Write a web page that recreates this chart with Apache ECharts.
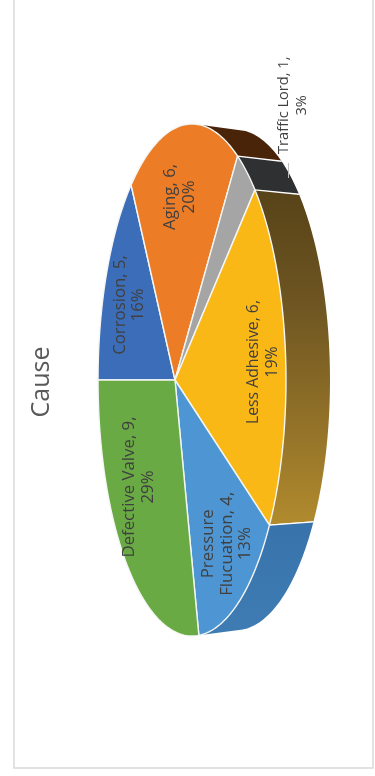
<!DOCTYPE html>
<html><head><meta charset="utf-8">
<style>html,body{margin:0;padding:0;background:#fff}#c{width:375px;height:776px}</style>
<script src="https://cdn.jsdelivr.net/npm/echarts@6/dist/echarts.min.js"></script>
</head><body><div id="c"></div>
<script>
const categories = ['Corrosion','Aging','Traffic Lord','Less Adhesive','Pressure Flucuation','Defective Valve'];
const values = [5,6,1,6,4,9];
const percents = ['16%','20%','3%','19%','13%','29%'];
const labelLines = [['Corrosion, 5,','16%'],['Aging, 6,','20%'],['Traffic Lord, 1,','3%'],['Less Adhesive, 6,','19%'],['Pressure','Flucuation, 4,','13%'],['Defective Valve, 9,','29%']];

const topColors = ['#3c6db8','#ec7c26','#a5a5a5','#fab816','#4d95d3','#69aa44'];
const labelRadius = [0.646,0.722,1.373,0.826,0.785,0.630];
const labelNudge = [1.5,1.4,6.4,1.6,-3.6,5.6];
const labelFont = [16.8,16.8,14.6,15.8,16.8,16.8];

// perspective projection of the pie disk
const apex=[175,380], A=90.9, C=251.8, K=-0.181, D=0.977, DX=44;
const total = values.reduce((a,b)=>a+b,0);
function ang(i){let s=0;for(let j=0;j<i;j++)s+=values[j];return s/total*360;}
function proj(deg,r){
  const t=deg*Math.PI/180,u=-Math.cos(t)*r,v=-Math.sin(t)*r,den=1+K*u;
  return [apex[0]+A*u/den, apex[1]+C*v/den];
}
function low(p){return [p[0]+DX, apex[1]+(p[1]-apex[1])*D];}
function rim(a,b){const n=Math.max(2,Math.ceil(Math.abs(b-a)));const o=[];for(let i=0;i<=n;i++)o.push(proj(a+(b-a)*i/n,1));return o;}

const G=echarts.graphic.LinearGradient;
const wallFills=[
  '#4a2409','#2f3031',
  new G(0,190,0,527,[{offset:0,color:'#574318'},{offset:.35,color:'#6f5622'},{offset:1,color:'#b28b2e'}],true),
  new G(0,527,0,636,[{offset:0,color:'#3874ab'},{offset:1,color:'#3f7cb4'}],true)
];
const wallIdx={1:0,2:1,3:2,4:3};

const chart=echarts.init(document.getElementById('c'),null,{renderer:'canvas'});
chart.setOption({
  animation:false,
  backgroundColor:'#fff',
  graphic:[
    {type:'rect',z:0,shape:{x:14,y:-6,width:359,height:774},style:{fill:'#fff',stroke:'#d9d9d9',lineWidth:1.5},silent:true},
    {type:'text',z:5,x:42,y:382,rotation:Math.PI/2,style:{text:'Cause',font:'25px "Open Sans"',fill:'#595959',align:'center',verticalAlign:'middle'},silent:true},
    {type:'polyline',z:5,shape:{points:[[288.5,163],[288.5,178]]},style:{stroke:'#bfbfbf',lineWidth:1,fill:null},silent:true}
  ],
  series:[
    {type:'custom',coordinateSystem:'none',z:2,silent:true,data:values.map(v=>[v]),
     renderItem(p,api){
      const i=p.dataIndex; if(!(i in wallIdx))return {type:'group',children:[]};
      const a=Math.max(ang(i),105),b=Math.min(ang(i)+api.value(0)/total*360,258);
      const r=rim(a,b);
      const pts=r.concat(r.map(low).reverse());
      const kids=[{type:'polygon',shape:{points:pts},style:{fill:wallFills[wallIdx[i]]}}];
      const first=r[0],last=r[r.length-1];
      if(i>1)kids.push({type:'polyline',shape:{points:[first,low(first)]},style:{stroke:'#fff',lineWidth:1.4,fill:null}});
      if(i===3)kids.push({type:'polyline',shape:{points:[last,low(last)]},style:{stroke:'#fff',lineWidth:1.4,fill:null}});
      return {type:'group',children:kids};
     }},
    {type:'custom',coordinateSystem:'none',z:3,silent:true,data:values.map(v=>[v]),
     renderItem(p,api){
      const i=p.dataIndex,a=ang(i),b=a+api.value(0)/total*360;
      return {type:'polygon',shape:{points:[apex].concat(rim(a,b))},style:{fill:topColors[i],stroke:'#f4f6f4',lineWidth:1.4,lineJoin:'round'}};
     }},
    {type:'custom',coordinateSystem:'none',z:4,silent:true,data:values.map(v=>[v]),
     renderItem(p,api){
      const i=p.dataIndex,m=ang(i)+api.value(0)/total*180+labelNudge[i];
      const c=proj(m,labelRadius[i]);
      return {type:'text',x:c[0],y:c[1],rotation:Math.PI/2,
        style:{text:labelLines[i].join('\n'),font:labelFont[i]+'px "Open Sans"',lineHeight:18.5,fill:'#404040',align:'center',verticalAlign:'middle'}};
     }}
  ]
});
</script></body></html>
